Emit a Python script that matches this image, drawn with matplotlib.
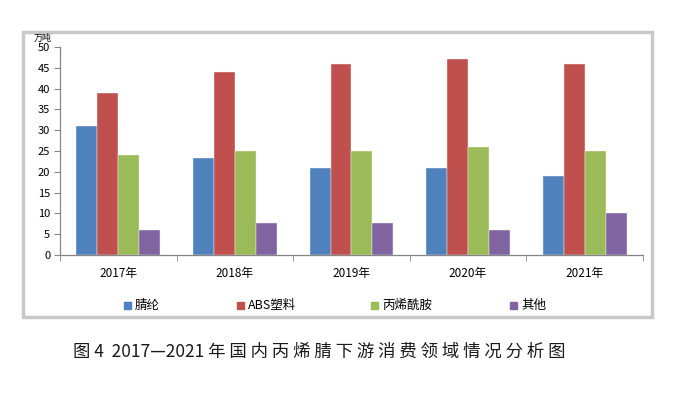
import matplotlib
matplotlib.use("Agg")
import matplotlib.pyplot as plt
import numpy as np
from matplotlib.patches import Rectangle

plt.rcParams['font.family'] = ['Noto Sans CJK SC', 'DejaVu Sans']

years = ["2017年", "2018年", "2019年", "2020年", "2021年"]
series_names = ["腈纶", "ABS塑料", "丙烯酰胺", "其他"]
acrylic = [31, 23.3, 21, 21, 19]
abs_plastic = [39, 44, 46, 47, 46]
acrylamide = [24, 25, 25, 26, 25]
others = [6, 7.8, 7.8, 6, 10]
colors = ["#4F81BD", "#C0504D", "#9BBB59", "#8064A2"]
caption = "图 4  2017—2021 年 国 内 丙 烯 腈 下 游 消 费 领 域 情 况 分 析 图"

W, H = 674, 396
fig = plt.figure(figsize=(W/100, H/100), dpi=100)
fig.patch.set_facecolor("white")

# outer frame
fig.patches.append(Rectangle((23/W, 1-317/H), (652-23)/W, (317-32)/H,
                             transform=fig.transFigure, fill=False,
                             edgecolor="#c8c8c8", linewidth=2.5))

ax = fig.add_axes([60/W, 1-255/H, (643-60)/W, (255-47)/H])
data = [acrylic, abs_plastic, acrylamide, others]
x = np.arange(len(years))
bw = 0.18
for i, (vals, c) in enumerate(zip(data, colors)):
    ax.bar(x + (i-1.5)*bw, vals, width=bw, color=c, edgecolor="#f4f4f4",
           linewidth=0.3, label=series_names[i])

ax.set_xlim(-0.5, len(years)-0.5)
ax.set_ylim(0, 50)
ax.set_yticks(np.arange(0, 51, 5))
ax.tick_params(axis='y', labelsize=8, length=4, color="#868686", pad=3, direction='out')
ax.set_xticks(x)
ax.set_xticklabels(years, fontsize=8.5)
ax.tick_params(axis='x', which='major', length=0, pad=9)
ax.set_xticks(np.arange(-0.5, len(years), 1), minor=True)
ax.tick_params(axis='x', which='minor', length=4, color="#868686", direction='out')
for s in ["top", "right"]:
    ax.spines[s].set_visible(False)
for s in ["left", "bottom"]:
    ax.spines[s].set_color("#868686")
    ax.spines[s].set_linewidth(0.9)

fig.text(43/W, 1-38/H, "万吨", fontsize=6.5, ha="center", va="center")

# legend
xs = [128, 241, 375, 514]
for hx, c, name in zip(xs, colors, series_names):
    fig.patches.append(Rectangle(((hx-4)/W, 1-309/H), 7/W, 7/H,
                                 transform=fig.transFigure, color=c))
    fig.text((hx+7)/W, 1-305.5/H, name, fontsize=9, ha="left", va="center")

fig.text(319/W, 1-352/H, caption, fontsize=12.5, ha="center", va="center", color="#1a1a1a")

fig.savefig("out.png", dpi=100)
